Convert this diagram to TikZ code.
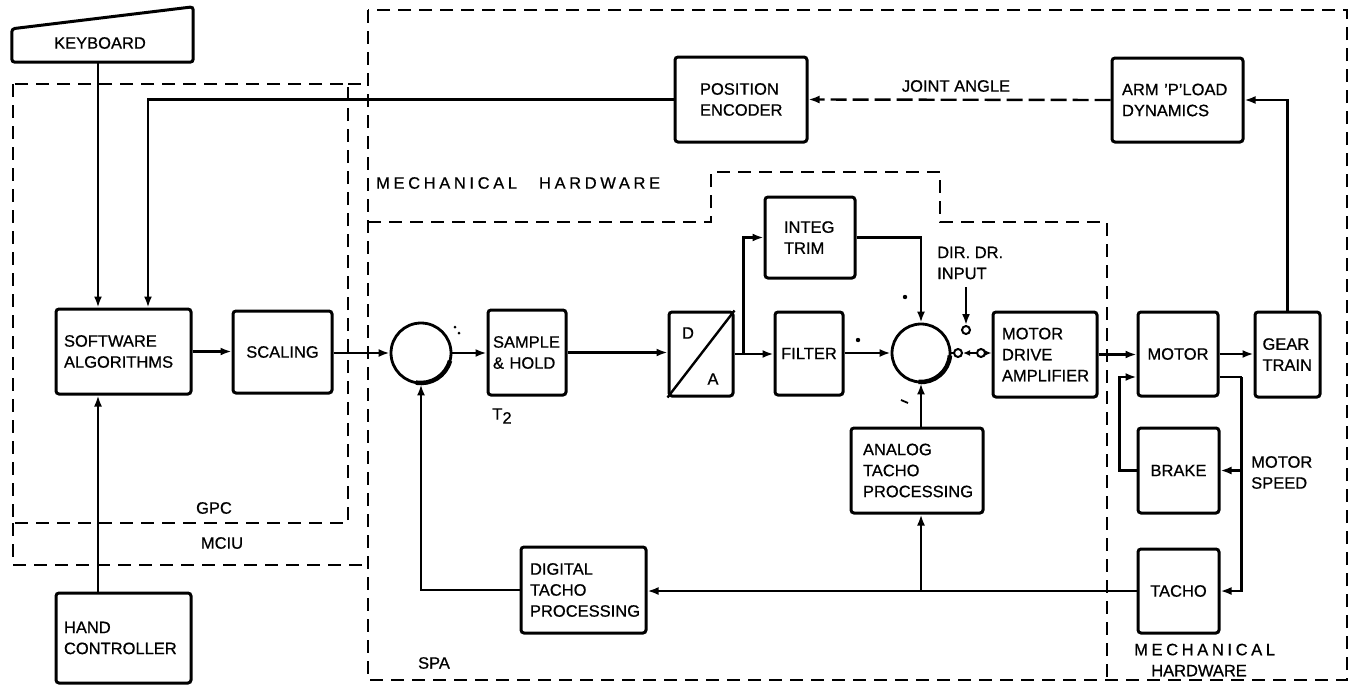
\documentclass[tikz,border=0pt]{standalone}
\usepackage{fontspec}
\setmainfont{Liberation Sans}[FakeBold=0.7]
\newfontfamily\spacedfont{Liberation Sans}[LetterSpace=22,FakeBold=0.7]
\usetikzlibrary{arrows.meta,calc}
\begin{document}
\begin{tikzpicture}[x=1pt,y=-1pt,
  every node/.style={font=\fontsize{16.5}{21}\selectfont, inner sep=0pt},
  blk/.style={draw, line width=3pt, rounded corners=3pt, inner ysep=0pt},
  ln/.style={line width=2.4pt},
  arr/.style={ln, -{Latex[length=11pt,width=8pt]}},
  sarr/.style={ln, -{Latex[length=7pt,width=6pt]}},
  zone/.style={line width=2.3pt, dash pattern=on 13pt off 8pt},
  sumj/.style={circle, draw, line width=2.8pt},
  term/.style={circle, draw, line width=2pt, minimum size=8pt}]
\useasboundingbox (0,0) rectangle (1351,686);
\fill[white] (0,0) rectangle (1351,686);

% ---------- dashed zones ----------
\draw[zone] (368,10) rectangle (1347,680);
\draw[zone] (368,222) -- (711,222) -- (711,172) -- (940,172) -- (940,222) -- (1107,222) -- (1107,680);
\draw[zone] (13,84) rectangle (348,523);
\draw[zone] (348,84) -- (368,84);
\draw[zone] (13,523) -- (13,565) -- (368,565);

% ---------- blocks ----------
\node[minimum width=181pt, minimum height=33pt] (kb) at (102.5,45.5) {};
\draw[line width=3pt, rounded corners=3pt] (kb.south west) -- (kb.south east) -- ([yshift=22pt]kb.north east) -- (kb.north west) -- cycle;
\node at (100,43) {KEYBOARD};

\node[blk, minimum width=135pt, minimum height=85pt, text width=119pt, inner xsep=8pt, align=left] (sw) at (123.5,351.5) {SOFTWARE\\ALGORITHMS};
\node[blk, minimum width=99pt, minimum height=82pt, align=center] (sc) at (282.5,352) {SCALING};
\node[blk, minimum width=135pt, minimum height=90pt, text width=119pt, inner xsep=8pt, align=left] (hc) at (123.5,638) {HAND\\CONTROLLER};

\node[sumj, minimum size=60pt] (s1) at (421,353) {};
\node[blk, minimum width=78pt, minimum height=85pt, text width=68pt, inner xsep=5pt, align=left] (sh) at (527,352.5) {SAMPLE\\\& HOLD};
\node[blk, minimum width=64pt, minimum height=84pt] (da) at (701,354) {};
\draw[ln] (da.south west) -- (da.north east);
\node (dl) at (688,333) {D};
\node (al) at (713,379) {A};

\node[blk, minimum width=90pt, minimum height=81pt, text width=52pt, inner xsep=19pt, align=left] (ig) at (810,237.5) {INTEG\\TRIM};
\node[blk, minimum width=68pt, minimum height=83pt, align=center] (fl) at (809,353.5) {FILTER};
\node[sumj, minimum size=58pt] (s2) at (921,353) {};

\node[blk, minimum width=104pt, minimum height=85pt, text width=86pt, inner xsep=9pt, align=left] (md) at (1045,354.5) {MOTOR\\DRIVE\\AMPLIFIER};
\node[blk, minimum width=80pt, minimum height=84pt, align=center] (mo) at (1178,354) {MOTOR};
\node[blk, minimum width=65pt, minimum height=85pt, text width=50pt, inner xsep=7.5pt, align=left] (gt) at (1287.5,354.5) {GEAR\\TRAIN};
\node[blk, minimum width=81pt, minimum height=85pt, align=center] (bk) at (1178.5,470.5) {BRAKE};
\node[blk, minimum width=81pt, minimum height=84pt, align=center] (tc) at (1178.5,591) {TACHO};

\node[blk, minimum width=132pt, minimum height=85pt, text width=108pt, inner xsep=12pt, align=left] (an) at (917,470.5) {ANALOG\\TACHO\\PROCESSING};
\node[blk, minimum width=125pt, minimum height=86pt, text width=107pt, inner xsep=9pt, align=left] (dg) at (583.5,590) {DIGITAL\\TACHO\\PROCESSING};

\node[blk, minimum width=132pt, minimum height=85pt, text width=82pt, inner xsep=25pt, align=left] (en) at (741,99.5) {POSITION\\ENCODER};
\node[blk, minimum width=131pt, minimum height=84pt, text width=111pt, inner xsep=10pt, align=left] (am) at (1177.5,100) {ARM 'P'LOAD\\DYNAMICS};

% thick lower rims of the summing junctions
\draw[line width=4.5pt] ([shift={(-15:30pt)}]s1.center) arc[start angle=-15, end angle=-100, radius=30pt];
\draw[line width=4.5pt] ([shift={(-5:29pt)}]s2.center) arc[start angle=-5, end angle=-95, radius=29pt];

% switch terminals
\node[term] (t1) at (958,353) {};
\node[term] (t2) at (981,353) {};
\node[term] (t3) at (966,330) {};
\coordinate (dirtop) at (966,287);

% ---------- labels ----------
\node[anchor=west] (mh1) at (376,183) {\spacedfont MECHANICAL\hspace{22pt}HARDWARE};
\node[anchor=west, align=left] (mh2) at (1134,660) {\spacedfont MECHANICAL\\\hspace{17pt}HARDWARE};
\node (gpc) at (214,508) {GPC};
\node (mciu) at (222,543) {MCIU};
\node (spa) at (434,663) {SPA};
\node (t2l) at (502,416) {T\raisebox{-4pt}{2}};
\node (ja) at (956,86) {JOINT ANGLE};
\node[anchor=west, align=left] (dir) at (937,263) {DIR. DR.\\INPUT};
\node[anchor=west, align=left] (msp) at (1251,472.5) {MOTOR\\SPEED};

% small sign marks
\fill (905,297) circle (2.2pt);
\fill (858,340) circle (2.2pt);
\draw[line width=1.8pt] (901,400) -- (908,403);
\fill (455,327) circle (1.5pt);
\fill (459,333) circle (1.5pt);

% ---------- connectors ----------
\coordinate (swk) at ($(sw.north)+(-25.5,0)$);
\coordinate (swe) at ($(sw.north)+(24.5,0)$);
\coordinate (swh) at ($(sw.south)+(-25.5,0)$);
\draw[arr] (kb.south -| swk) -- (swk);
\draw[arr] (en.west) -| (swe);
\draw[arr] (hc.north -| swh) -- (swh);
\draw[arr] (sw.east) -- (sw.east -| sc.west);
\draw[arr] (s1.west -| sc.east) -- (s1.west);
\draw[arr] (s1.east) -- (s1.east -| sh.west);
\draw[arr] (sh.east) -- (sh.east -| da.west);
\draw[arr] (da.east) -- (da.east -| fl.west);
\coordinate (dab) at ($(da.east)+(9,0)$);
\draw[arr] (dab) |- (ig.west);
\draw[arr] (s2.west -| fl.east) -- (s2.west);
\draw[arr] (ig.east) -| (s2.north);
\draw[ln] (s2.east) -- (t1.west);
\draw[sarr] (t2.west) -- (t1.east);
\draw[sarr] (t2.east) -- (t2.east -| md.west);
\draw[arr] (dirtop) -- (t3.north);
\draw[arr] (md.east) -- (md.east -| mo.west);
\draw[arr] (mo.east) -- (mo.east -| gt.west);
\draw[arr] (gt.north) |- (am.east);
\draw[arr, dash pattern=on 16pt off 6pt] (am.west) -- (en.east);
\coordinate (mor) at ($(mo.east)+(0,23)$);
\coordinate (mil) at ($(mo.west)+(0,23)$);
\draw[ln] (mor) -- ++(22,0) coordinate (mj);
\draw[arr] (mj) |- (tc.east);
\draw[arr] (mj |- bk.east) -- (bk.east);
\draw[arr] (bk.west) -- ++(-17,0) |- (mil);
\draw[arr] (tc.west) -- (tc.west -| dg.east);
\draw[arr] (s2 |- tc.west) -- (s2 |- an.south);
\draw[arr] (s2 |- an.north) -- (s2.south);
\draw[arr] (dg.west) -| (s1.south);
\end{tikzpicture}
\end{document}
